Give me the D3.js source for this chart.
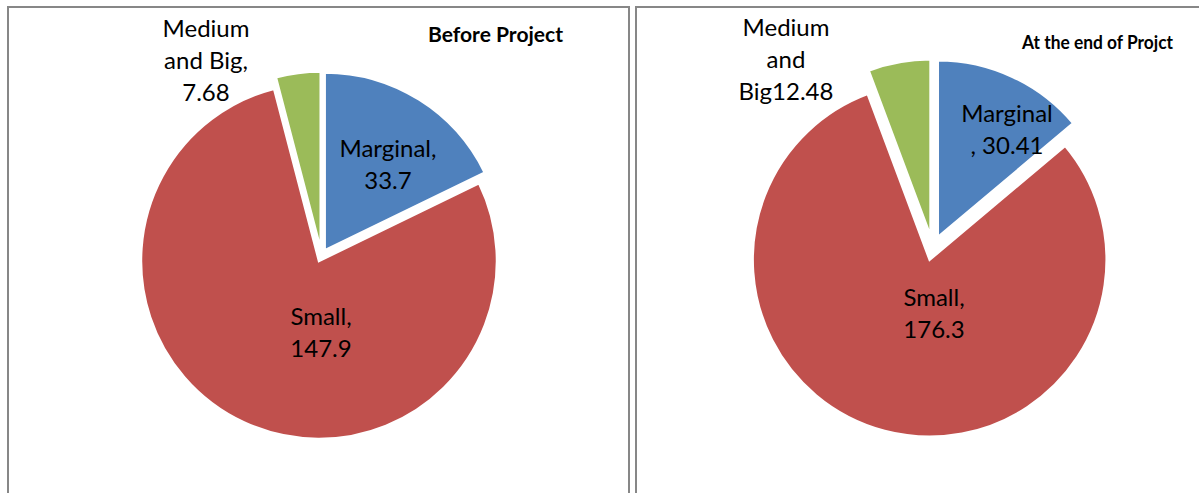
<!DOCTYPE html>
<html>
<head>
<meta charset="utf-8">
<script src="https://cdn.jsdelivr.net/npm/d3@7"></script>
<style>
body { margin: 0; background: #fff; }
svg text { font-family: Lato, "Liberation Sans", sans-serif; fill: #000; }
</style>
</head>
<body>
<svg id="chart" width="1199" height="493"></svg>
<script>
// Farm categories and their values before / after the project
const categories = ["Marginal", "Small", "Medium and Big"];
const beforeValues = [33.7, 147.9, 7.68];
const afterValues = [30.41, 176.3, 12.48];

// Data label text, one entry per category, split into lines as in the picture
const beforeLabels = [["Marginal,", "33.7"], ["Small,", "147.9"], ["Medium", "and Big,", "7.68"]];
const afterLabels = [["Marginal", ", 30.41"], ["Small,", "176.3"], ["Medium", "and", "Big12.48"]];

const titles = ["Before Project", "At the end of Projct"];

// Excel 2007 default palette
const colors = ["#4F81BD", "#C0504D", "#9BBB59"];

// Layout of each panel (border box, pie centre, label anchors)
const panels = [
    {
        title: titles[0], values: beforeValues, labels: beforeLabels,
        box: {x: 8, y: 7, w: 621, h: 520},
        center: [321.5, 255.5], radius: 178, explode: 6,
        titlePos: [428, 42], titleWidth: 135, titleSize: 20,
        labelPos: [[388, 157], [321, 325], [206, 37]]
    },
    {
        title: titles[1], values: afterValues, labels: afterLabels,
        box: {x: 636, y: 7, w: 600, h: 520},
        center: [932.7, 248.1], radius: 177, explode: 12,
        titlePos: [1022, 49], titleWidth: 151, titleSize: 19,
        labelPos: [[1007, 122], [934, 306], [786, 36]]
    }
];

const lineHeight = 31.8;

let svg = d3.select("#chart");

for (let p of panels) {
    // Panel border
    svg.append("rect")
        .attr("x", p.box.x)
        .attr("y", p.box.y)
        .attr("width", p.box.w)
        .attr("height", p.box.h)
        .attr("fill", "none")
        .attr("stroke", "#878787")
        .attr("stroke-width", 2);

    let pie = d3.pie().sort(null).value(d => d);
    let arc = d3.arc().innerRadius(0).outerRadius(p.radius);
    let arcs = pie(p.values);

    let g = svg.append("g")
        .attr("transform", `translate(${p.center[0]},${p.center[1]})`);

    // Each slice is pulled out a little along its middle angle
    g.selectAll("path")
        .data(arcs)
        .enter()
        .append("path")
        .attr("d", arc)
        .attr("fill", (d, i) => colors[i])
        .attr("stroke", "#fff")
        .attr("stroke-width", 2.5)
        .attr("stroke-linejoin", "miter")
        .attr("transform", d => {
            let mid = (d.startAngle + d.endAngle) / 2;
            return `translate(${p.explode * Math.sin(mid)},${-p.explode * Math.cos(mid)})`;
        });

    // Data labels
    p.labels.forEach((lines, i) => {
        let t = svg.append("text")
            .attr("text-anchor", "middle")
            .style("font-size", "24px");
        lines.forEach((line, j) => {
            t.append("tspan")
                .attr("x", p.labelPos[i][0])
                .attr("y", p.labelPos[i][1] + j * lineHeight)
                .text(line);
        });
    });

    // Chart title (bold, condensed)
    svg.append("text")
        .attr("x", p.titlePos[0])
        .attr("y", p.titlePos[1])
        .attr("textLength", p.titleWidth)
        .attr("lengthAdjust", "spacingAndGlyphs")
        .style("font-size", p.titleSize + "px")
        .style("font-weight", "bold")
        .text(p.title);
}
</script>
</body>
</html>
